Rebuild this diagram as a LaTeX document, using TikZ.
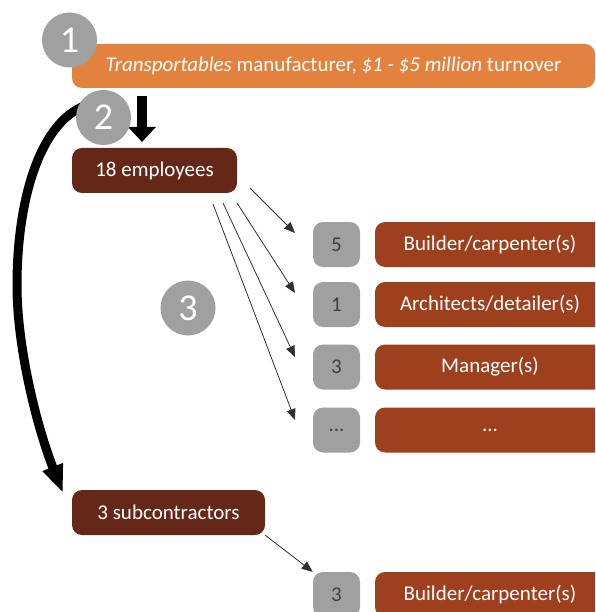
\documentclass[tikz,border=0pt]{standalone}
\usepackage{fontspec}
\setmainfont{Carlito}
\usetikzlibrary{arrows.meta,calc}
\definecolor{orangebox}{HTML}{E3823F}
\definecolor{darkbrown}{HTML}{652818}
\definecolor{rust}{HTML}{9E3F1E}
\definecolor{badge}{HTML}{A0A0A0}
\definecolor{numtxt}{HTML}{404040}
\definecolor{thinline}{HTML}{303030}
\begin{document}
\begin{tikzpicture}[x=1pt,y=-1pt,
  box/.style={rounded corners=10pt, inner sep=0pt, text=white, font=\fontsize{21}{25}\selectfont},
  topbox/.style={box, fill=orangebox, minimum width=523pt, minimum height=44pt},
  groupbox/.style={box, fill=darkbrown, minimum height=45pt},
  rolebox/.style={box, fill=rust, minimum width=230pt, minimum height=45pt},
  countbox/.style={box, fill=badge, text=numtxt, minimum width=47pt, minimum height=45pt},
  badgecircle/.style={circle, fill=badge, inner sep=0pt, minimum size=55pt, text=white, font=\fontsize{38}{40}\selectfont},
  thinarrow/.style={draw=thinline, line width=0.8pt, -{Triangle[length=11pt,width=9pt]}},
  bigarrow/.style={line width=9pt, -{Triangle[length=28pt,width=20pt]}},
  downarrow/.style={line width=10pt, -{Triangle[length=15pt,width=27pt]}}
]
\useasboundingbox (0,0) rectangle (595,612);
\clip (0,0) rectangle (595,612);

% main boxes
\node[topbox] (top) at (333.5,66) {\textit{Transportables} manufacturer, \textit{\$1 - \$5 million} turnover};
\node[groupbox, minimum width=165pt] (emp) at (154.5,170.5) {18 employees};
\node[groupbox, minimum width=193pt] (sub) at (168.5,512.5) {3 subcontractors};

% count squares and role boxes
\node[countbox] (n1) at (336.5,244.5) {5};
\node[countbox] (n2) at (336.5,304.5) {1};
\node[countbox] (n3) at (336.5,367) {3};
\node[countbox] (n4) at (336.5,430) {...};
\node[countbox] (n5) at (336.5,594.5) {3};
\node[rolebox] (r1) at (490,244.5) {Builder/carpenter(s)};
\node[rolebox] (r2) at (490,304.5) {Architects/detailer(s)};
\node[rolebox] (r3) at (490,367) {Manager(s)};
\node[rolebox] (r4) at (490,430) {...};
\node[rolebox] (r5) at (490,594.5) {Builder/carpenter(s)};

% big curved arrow
\coordinate (cs) at (90,104);
\coordinate (cm) at (17,285);
\coordinate (ce) at (63,493);
\draw[bigarrow] (cs) .. controls (40,118) and (17,200) .. (cm)
                     .. controls (17,350) and (38,430) .. (ce);

% thick down arrow
\coordinate (ds) at (142,96);
\coordinate (de) at (142,142);
\draw[downarrow] (ds) -- (de);

% thin arrows
\coordinate (a1) at (250,188);
\coordinate (a2) at (237,203);
\coordinate (a3) at (223,203);
\coordinate (a4) at (213,204);
\coordinate (e1) at (295,233);
\coordinate (e2) at (295,293);
\coordinate (e3) at (295,357);
\coordinate (e4) at (295,420);
\draw[thinarrow] (a1) -- (e1);
\draw[thinarrow] (a2) -- (e2);
\draw[thinarrow] (a3) -- (e3);
\draw[thinarrow] (a4) -- (e4);
\draw[thinarrow] (sub.south east) -- (n5.north west);

% step badges
\node[badgecircle] (c1) at (69.5,40) {1};
\node[badgecircle] (c2) at (103.5,117.5) {2};
\node[badgecircle] (c3) at (188,308) {3};
\end{tikzpicture}
\end{document}
